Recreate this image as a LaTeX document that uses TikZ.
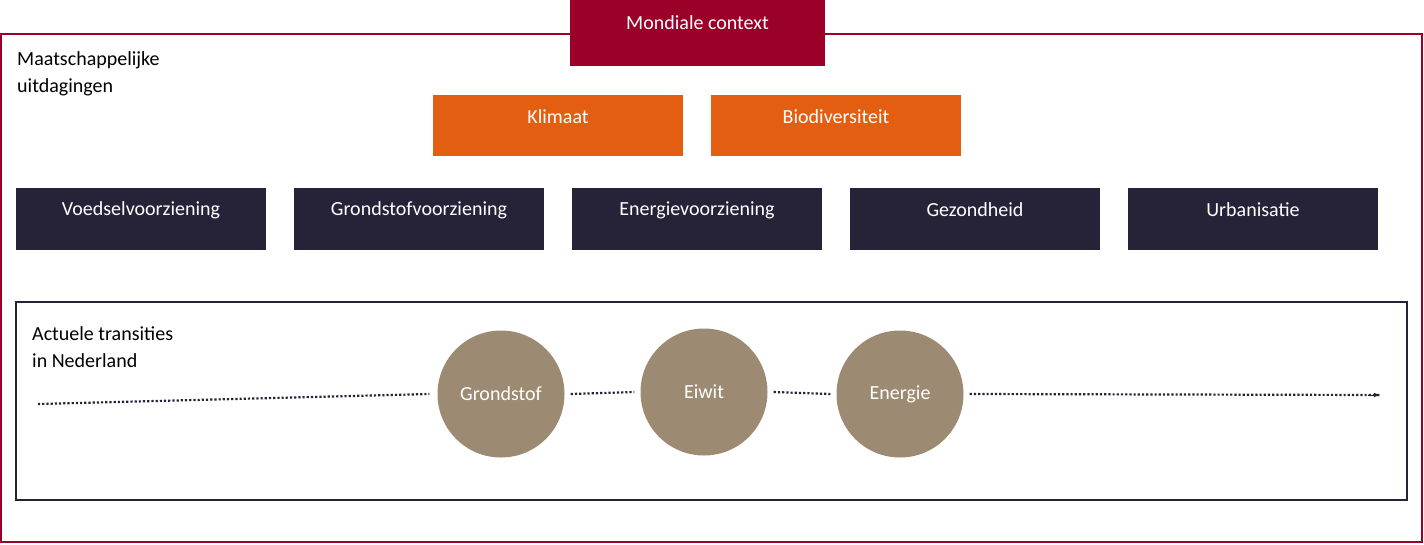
\documentclass[tikz,border=0pt]{standalone}
\usepackage{fontspec}
\setmainfont{Carlito}
\definecolor{wine}{HTML}{9B0028}
\definecolor{oranje}{HTML}{E45E12}
\definecolor{navy}{HTML}{262338}
\definecolor{taupe}{HTML}{9C8B72}
\tikzset{
  themebox/.style={fill=navy,text=white,minimum width=250pt,minimum height=62pt,text depth=0pt,inner sep=0pt},
  climbox/.style={fill=oranje,text=white,minimum width=250pt,minimum height=61pt,inner sep=0pt},
  transcircle/.style={circle,fill=taupe,text=white,minimum size=127pt,inner sep=0pt},
  dots/.style={dotted,line width=2.2pt,navy}
}
\begin{document}
\begin{tikzpicture}[>=latex,x=1pt,y=-1pt,font=\fontsize{20}{27}\selectfont]
\useasboundingbox (0,0) rectangle (1424,544);
%%
\draw[wine,line width=2pt] (1,34) rectangle (1422,542);
\node (mondiaal) at (697.5,33) [fill=wine,text=white,minimum width=255pt,minimum height=66pt,inner sep=0pt] {};
\node at (697.5,23) [text=white] {Mondiale context};
\node (uitdaging) at (17,74) [anchor=west,align=left,inner sep=0pt] {Maatschappelijke\\uitdagingen};
%
\node (klimaat) at (558,125.5) [climbox] {};
\node at (558,117) [text=white] {Klimaat};
\node (biodiv) at (836,125.5) [climbox] {};
\node at (836,117) [text=white] {Biodiversiteit};
%
\foreach \x/\name/\txt in {141/voedsel/Voedselvoorziening,419/grondstof/Grondstofvoorziening,697/energie/Energievoorziening,975/gezond/Gezondheid,1253/urban/Urbanisatie}{
  \node (\name) at (\x,219) [themebox] {};
  \node at (\x,210) [text=white] {\txt};
}
%
\draw[navy,line width=2pt] (16,302) rectangle (1407,500);
\node (actueel) at (32,347) [anchor=west,align=left,inner sep=0pt] {Actuele transities\\in Nederland};
\coordinate (start) at (38,404);
\coordinate (eind) at (1380,395);
\node (grond) at (501,394) [transcircle] {Grondstof};
\node (eiwit) at (704,392) [transcircle] {Eiwit};
\node (energ) at (900,394) [transcircle] {Energie};
\draw[dots] (start) -- ([xshift=-8pt]grond.west);
\draw[dots] ([xshift=6pt]grond.east) -- ([xshift=-6pt]eiwit.west);
\draw[dots] ([xshift=6pt]eiwit.east) -- ([xshift=-6pt]energ.west);
\draw[dots] ([xshift=6pt]energ.east) -- (eind);
\draw[navy,->,line width=1pt] ([xshift=-12pt]eind) -- (eind);
%
\end{tikzpicture}
\end{document}
